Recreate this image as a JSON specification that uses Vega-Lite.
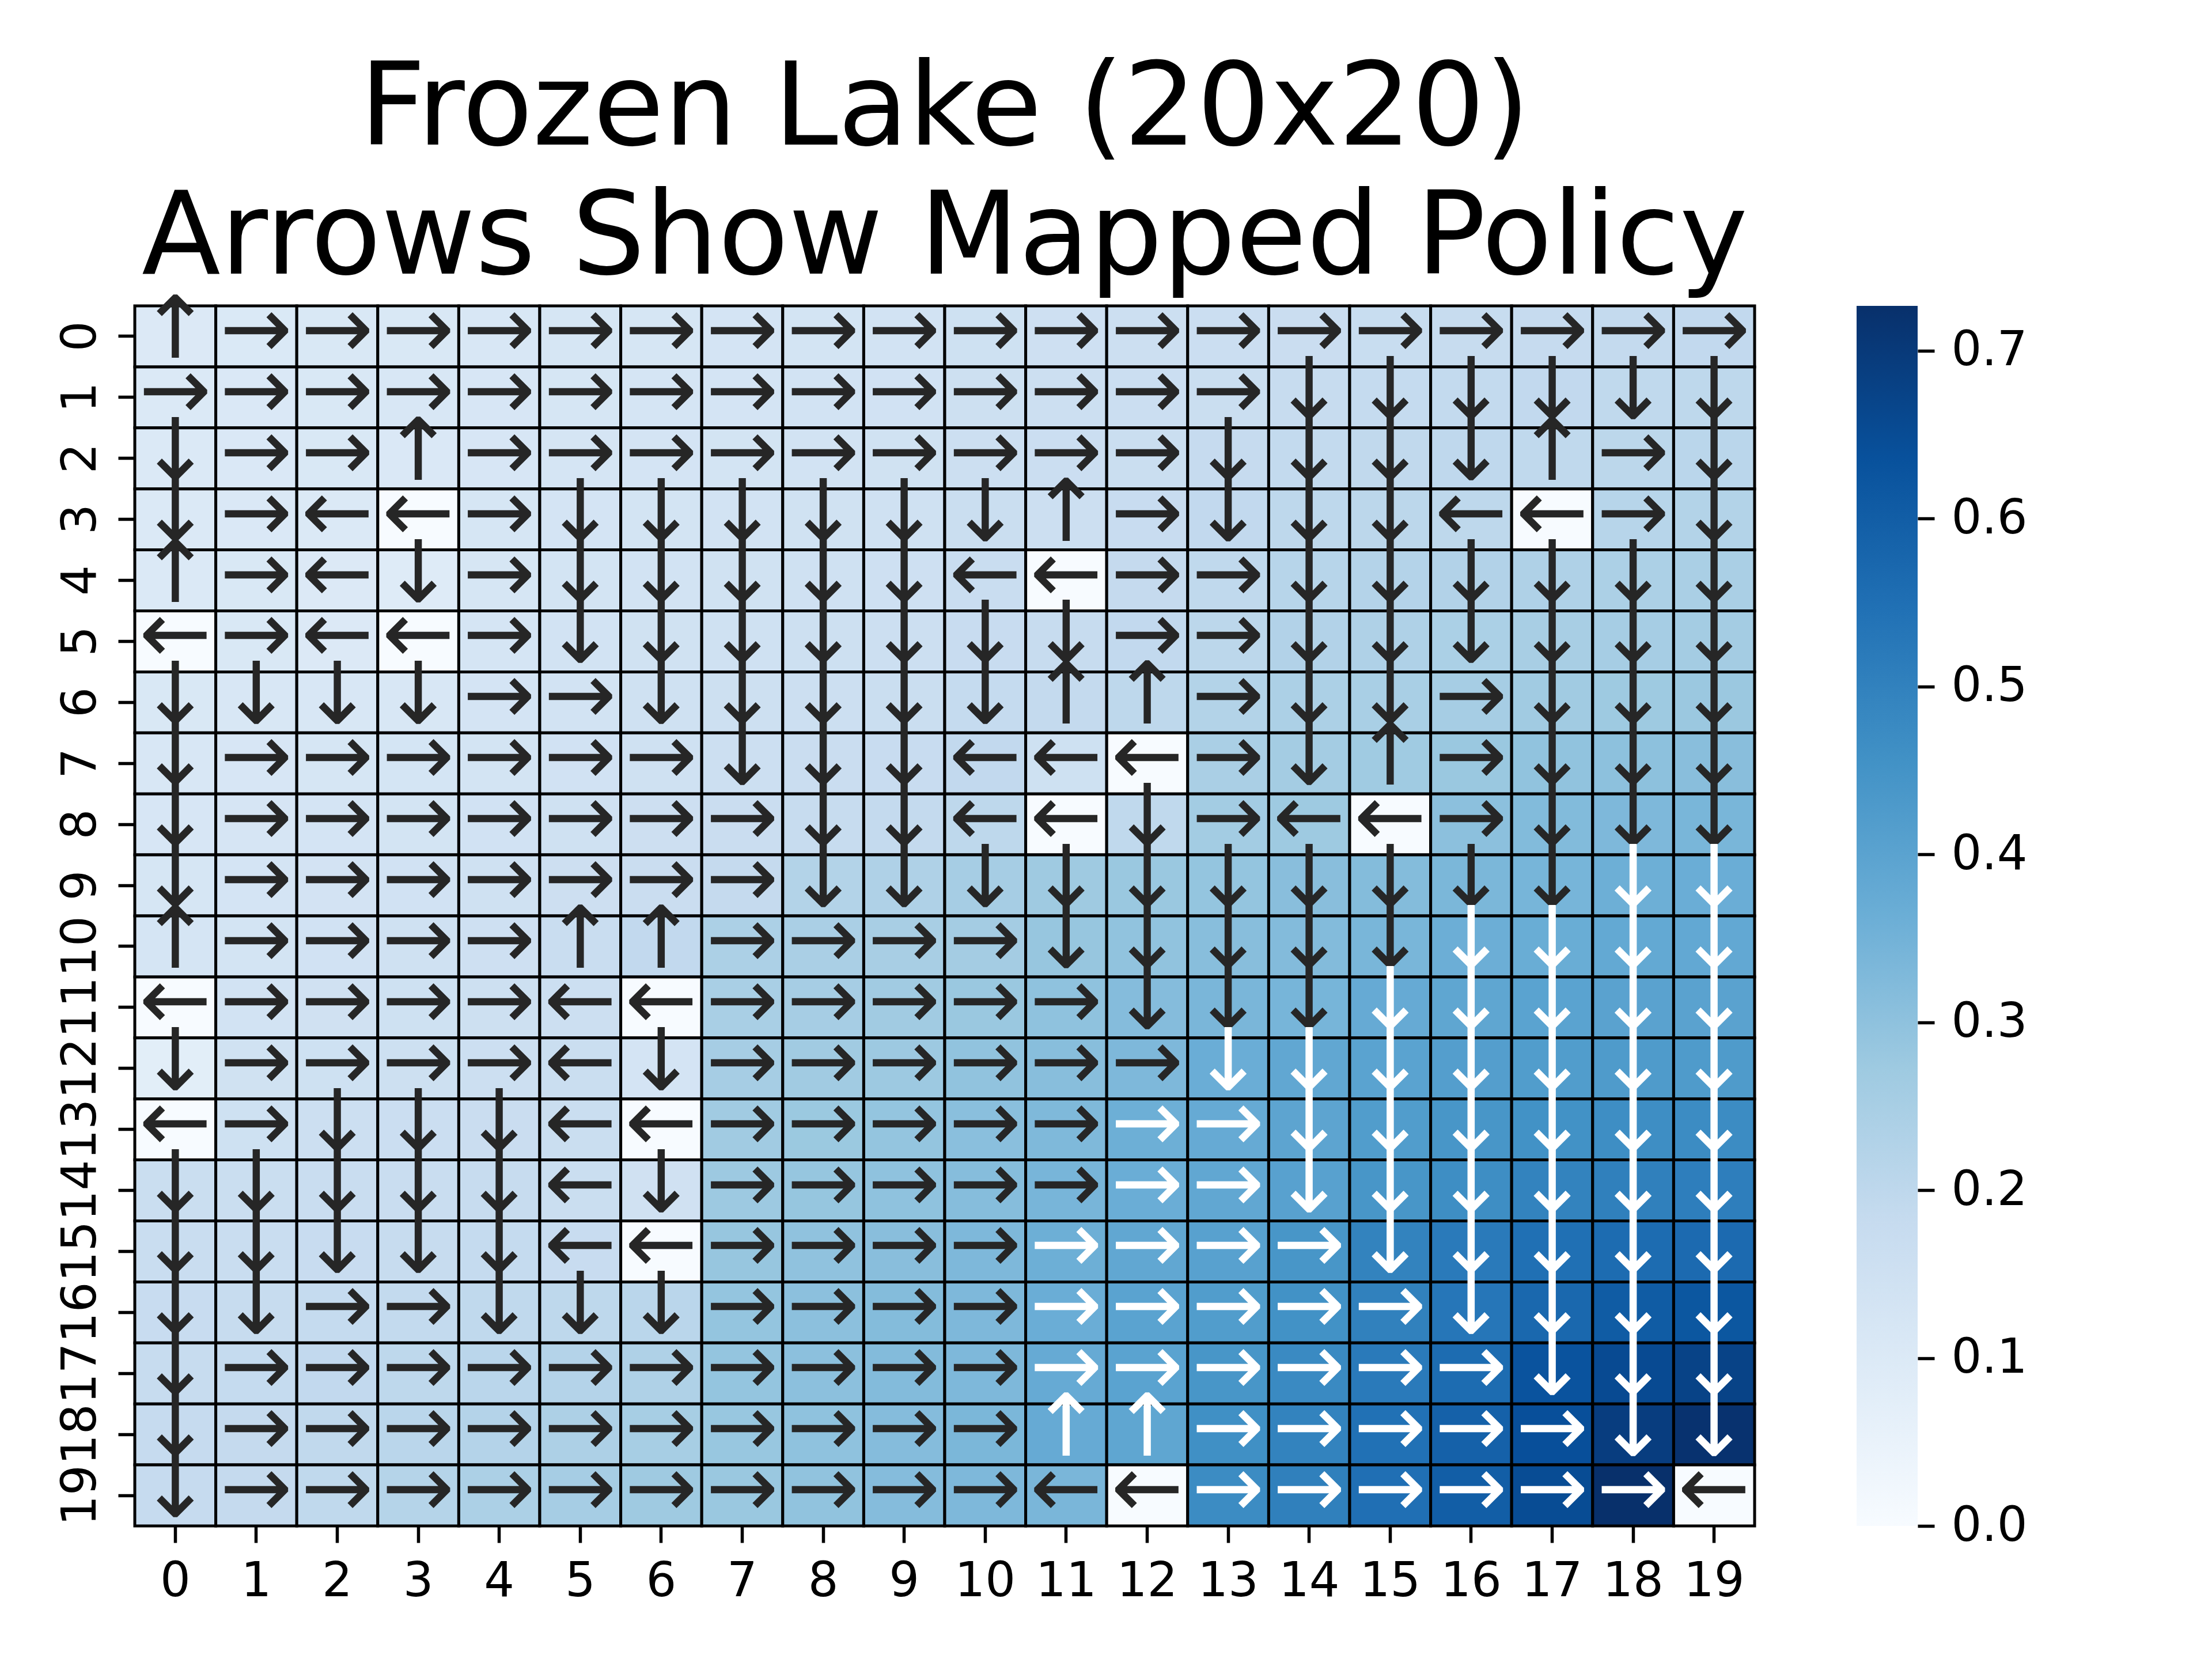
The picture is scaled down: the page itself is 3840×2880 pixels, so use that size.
{
  "$schema": "https://vega.github.io/schema/vega-lite/v6.json",
  "background": "white",
  "padding": {"left": 98, "top": 90, "right": 20, "bottom": 20},
  "config": {"view": {"stroke": null}, "font": "DejaVu Sans"},
  "spacing": 177,
  "bounds": "flush",
  "hconcat": [
    {
      "width": 2812,
      "height": 2118,
      "title": {"text": ["Frozen Lake (20x20)", "Arrows Show Mapped Policy"], "fontSize": 200, "font": "DejaVu Sans", "fontWeight": "normal", "color": "black", "lineHeight": 224, "anchor": "middle", "offset": -16},
      "data": {"values": [
{"r":0,"c":0,"v":0.1,"a":"↑"},{"r":0,"c":1,"v":0.105,"a":"→"},{"r":0,"c":2,"v":0.11,"a":"→"},{"r":0,"c":3,"v":0.11,"a":"→"},{"r":0,"c":4,"v":0.115,"a":"→"},{"r":0,"c":5,"v":0.12,"a":"→"},{"r":0,"c":6,"v":0.122,"a":"→"},{"r":0,"c":7,"v":0.128,"a":"→"},{"r":0,"c":8,"v":0.132,"a":"→"},{"r":0,"c":9,"v":0.136,"a":"→"},{"r":0,"c":10,"v":0.15,"a":"→"},{"r":0,"c":11,"v":0.153,"a":"→"},{"r":0,"c":12,"v":0.158,"a":"→"},{"r":0,"c":13,"v":0.163,"a":"→"},{"r":0,"c":14,"v":0.168,"a":"→"},{"r":0,"c":15,"v":0.173,"a":"→"},{"r":0,"c":16,"v":0.178,"a":"→"},{"r":0,"c":17,"v":0.182,"a":"→"},{"r":0,"c":18,"v":0.186,"a":"→"},{"r":0,"c":19,"v":0.19,"a":"→"},
{"r":1,"c":0,"v":0.102,"a":"→"},{"r":1,"c":1,"v":0.106,"a":"→"},{"r":1,"c":2,"v":0.11,"a":"→"},{"r":1,"c":3,"v":0.113,"a":"→"},{"r":1,"c":4,"v":0.117,"a":"→"},{"r":1,"c":5,"v":0.122,"a":"→"},{"r":1,"c":6,"v":0.126,"a":"→"},{"r":1,"c":7,"v":0.13,"a":"→"},{"r":1,"c":8,"v":0.135,"a":"→"},{"r":1,"c":9,"v":0.14,"a":"→"},{"r":1,"c":10,"v":0.155,"a":"→"},{"r":1,"c":11,"v":0.158,"a":"→"},{"r":1,"c":12,"v":0.162,"a":"→"},{"r":1,"c":13,"v":0.166,"a":"→"},{"r":1,"c":14,"v":0.178,"a":"↓"},{"r":1,"c":15,"v":0.183,"a":"↓"},{"r":1,"c":16,"v":0.188,"a":"↓"},{"r":1,"c":17,"v":0.19,"a":"↓"},{"r":1,"c":18,"v":0.195,"a":"↓"},{"r":1,"c":19,"v":0.2,"a":"↓"},
{"r":2,"c":0,"v":0.102,"a":"↓"},{"r":2,"c":1,"v":0.106,"a":"→"},{"r":2,"c":2,"v":0.108,"a":"→"},{"r":2,"c":3,"v":0.106,"a":"↑"},{"r":2,"c":4,"v":0.118,"a":"→"},{"r":2,"c":5,"v":0.124,"a":"→"},{"r":2,"c":6,"v":0.128,"a":"→"},{"r":2,"c":7,"v":0.133,"a":"→"},{"r":2,"c":8,"v":0.138,"a":"→"},{"r":2,"c":9,"v":0.143,"a":"→"},{"r":2,"c":10,"v":0.158,"a":"→"},{"r":2,"c":11,"v":0.162,"a":"→"},{"r":2,"c":12,"v":0.167,"a":"→"},{"r":2,"c":13,"v":0.18,"a":"↓"},{"r":2,"c":14,"v":0.188,"a":"↓"},{"r":2,"c":15,"v":0.193,"a":"↓"},{"r":2,"c":16,"v":0.197,"a":"↓"},{"r":2,"c":17,"v":0.195,"a":"↑"},{"r":2,"c":18,"v":0.205,"a":"→"},{"r":2,"c":19,"v":0.21,"a":"↓"},
{"r":3,"c":0,"v":0.103,"a":"↓"},{"r":3,"c":1,"v":0.107,"a":"→"},{"r":3,"c":2,"v":0.103,"a":"←"},{"r":3,"c":3,"v":0,"a":"←"},{"r":3,"c":4,"v":0.12,"a":"→"},{"r":3,"c":5,"v":0.128,"a":"↓"},{"r":3,"c":6,"v":0.132,"a":"↓"},{"r":3,"c":7,"v":0.138,"a":"↓"},{"r":3,"c":8,"v":0.143,"a":"↓"},{"r":3,"c":9,"v":0.148,"a":"↓"},{"r":3,"c":10,"v":0.165,"a":"↓"},{"r":3,"c":11,"v":0.16,"a":"↑"},{"r":3,"c":12,"v":0.175,"a":"→"},{"r":3,"c":13,"v":0.19,"a":"↓"},{"r":3,"c":14,"v":0.2,"a":"↓"},{"r":3,"c":15,"v":0.205,"a":"↓"},{"r":3,"c":16,"v":0.2,"a":"←"},{"r":3,"c":17,"v":0,"a":"←"},{"r":3,"c":18,"v":0.215,"a":"→"},{"r":3,"c":19,"v":0.225,"a":"↓"},
{"r":4,"c":0,"v":0.104,"a":"↑"},{"r":4,"c":1,"v":0.108,"a":"→"},{"r":4,"c":2,"v":0.1,"a":"←"},{"r":4,"c":3,"v":0.09,"a":"↓"},{"r":4,"c":4,"v":0.122,"a":"→"},{"r":4,"c":5,"v":0.132,"a":"↓"},{"r":4,"c":6,"v":0.137,"a":"↓"},{"r":4,"c":7,"v":0.143,"a":"↓"},{"r":4,"c":8,"v":0.148,"a":"↓"},{"r":4,"c":9,"v":0.153,"a":"↓"},{"r":4,"c":10,"v":0.17,"a":"←"},{"r":4,"c":11,"v":0,"a":"←"},{"r":4,"c":12,"v":0.185,"a":"→"},{"r":4,"c":13,"v":0.195,"a":"→"},{"r":4,"c":14,"v":0.215,"a":"↓"},{"r":4,"c":15,"v":0.222,"a":"↓"},{"r":4,"c":16,"v":0.228,"a":"↓"},{"r":4,"c":17,"v":0.235,"a":"↓"},{"r":4,"c":18,"v":0.24,"a":"↓"},{"r":4,"c":19,"v":0.245,"a":"↓"},
{"r":5,"c":0,"v":0,"a":"←"},{"r":5,"c":1,"v":0.11,"a":"→"},{"r":5,"c":2,"v":0.1,"a":"←"},{"r":5,"c":3,"v":0,"a":"←"},{"r":5,"c":4,"v":0.125,"a":"→"},{"r":5,"c":5,"v":0.136,"a":"↓"},{"r":5,"c":6,"v":0.142,"a":"↓"},{"r":5,"c":7,"v":0.148,"a":"↓"},{"r":5,"c":8,"v":0.154,"a":"↓"},{"r":5,"c":9,"v":0.16,"a":"↓"},{"r":5,"c":10,"v":0.175,"a":"↓"},{"r":5,"c":11,"v":0.178,"a":"↓"},{"r":5,"c":12,"v":0.19,"a":"→"},{"r":5,"c":13,"v":0.205,"a":"→"},{"r":5,"c":14,"v":0.228,"a":"↓"},{"r":5,"c":15,"v":0.235,"a":"↓"},{"r":5,"c":16,"v":0.242,"a":"↓"},{"r":5,"c":17,"v":0.25,"a":"↓"},{"r":5,"c":18,"v":0.255,"a":"↓"},{"r":5,"c":19,"v":0.26,"a":"↓"},
{"r":6,"c":0,"v":0.108,"a":"↓"},{"r":6,"c":1,"v":0.112,"a":"↓"},{"r":6,"c":2,"v":0.113,"a":"↓"},{"r":6,"c":3,"v":0.115,"a":"↓"},{"r":6,"c":4,"v":0.128,"a":"→"},{"r":6,"c":5,"v":0.135,"a":"→"},{"r":6,"c":6,"v":0.147,"a":"↓"},{"r":6,"c":7,"v":0.154,"a":"↓"},{"r":6,"c":8,"v":0.16,"a":"↓"},{"r":6,"c":9,"v":0.167,"a":"↓"},{"r":6,"c":10,"v":0.183,"a":"↓"},{"r":6,"c":11,"v":0.187,"a":"↑"},{"r":6,"c":12,"v":0.2,"a":"↑"},{"r":6,"c":13,"v":0.225,"a":"→"},{"r":6,"c":14,"v":0.24,"a":"↓"},{"r":6,"c":15,"v":0.248,"a":"↓"},{"r":6,"c":16,"v":0.255,"a":"→"},{"r":6,"c":17,"v":0.265,"a":"↓"},{"r":6,"c":18,"v":0.272,"a":"↓"},{"r":6,"c":19,"v":0.278,"a":"↓"},
{"r":7,"c":0,"v":0.112,"a":"↓"},{"r":7,"c":1,"v":0.118,"a":"→"},{"r":7,"c":2,"v":0.122,"a":"→"},{"r":7,"c":3,"v":0.127,"a":"→"},{"r":7,"c":4,"v":0.132,"a":"→"},{"r":7,"c":5,"v":0.14,"a":"→"},{"r":7,"c":6,"v":0.148,"a":"→"},{"r":7,"c":7,"v":0.16,"a":"↓"},{"r":7,"c":8,"v":0.168,"a":"↓"},{"r":7,"c":9,"v":0.175,"a":"↓"},{"r":7,"c":10,"v":0.19,"a":"←"},{"r":7,"c":11,"v":0.15,"a":"←"},{"r":7,"c":12,"v":0,"a":"←"},{"r":7,"c":13,"v":0.245,"a":"→"},{"r":7,"c":14,"v":0.26,"a":"↓"},{"r":7,"c":15,"v":0.268,"a":"↑"},{"r":7,"c":16,"v":0.28,"a":"→"},{"r":7,"c":17,"v":0.295,"a":"↓"},{"r":7,"c":18,"v":0.303,"a":"↓"},{"r":7,"c":19,"v":0.31,"a":"↓"},
{"r":8,"c":0,"v":0.117,"a":"↓"},{"r":8,"c":1,"v":0.123,"a":"→"},{"r":8,"c":2,"v":0.128,"a":"→"},{"r":8,"c":3,"v":0.133,"a":"→"},{"r":8,"c":4,"v":0.14,"a":"→"},{"r":8,"c":5,"v":0.148,"a":"→"},{"r":8,"c":6,"v":0.157,"a":"→"},{"r":8,"c":7,"v":0.168,"a":"→"},{"r":8,"c":8,"v":0.178,"a":"↓"},{"r":8,"c":9,"v":0.186,"a":"↓"},{"r":8,"c":10,"v":0.2,"a":"←"},{"r":8,"c":11,"v":0,"a":"←"},{"r":8,"c":12,"v":0.195,"a":"↓"},{"r":8,"c":13,"v":0.262,"a":"→"},{"r":8,"c":14,"v":0.272,"a":"←"},{"r":8,"c":15,"v":0,"a":"←"},{"r":8,"c":16,"v":0.305,"a":"→"},{"r":8,"c":17,"v":0.322,"a":"↓"},{"r":8,"c":18,"v":0.33,"a":"↓"},{"r":8,"c":19,"v":0.338,"a":"↓"},
{"r":9,"c":0,"v":0.122,"a":"↓"},{"r":9,"c":1,"v":0.128,"a":"→"},{"r":9,"c":2,"v":0.134,"a":"→"},{"r":9,"c":3,"v":0.14,"a":"→"},{"r":9,"c":4,"v":0.148,"a":"→"},{"r":9,"c":5,"v":0.157,"a":"→"},{"r":9,"c":6,"v":0.168,"a":"→"},{"r":9,"c":7,"v":0.185,"a":"→"},{"r":9,"c":8,"v":0.225,"a":"↓"},{"r":9,"c":9,"v":0.235,"a":"↓"},{"r":9,"c":10,"v":0.254,"a":"↓"},{"r":9,"c":11,"v":0.27,"a":"↓"},{"r":9,"c":12,"v":0.28,"a":"↓"},{"r":9,"c":13,"v":0.29,"a":"↓"},{"r":9,"c":14,"v":0.31,"a":"↓"},{"r":9,"c":15,"v":0.318,"a":"↓"},{"r":9,"c":16,"v":0.335,"a":"↓"},{"r":9,"c":17,"v":0.342,"a":"↓"},{"r":9,"c":18,"v":0.36,"a":"↓"},{"r":9,"c":19,"v":0.365,"a":"↓"},
{"r":10,"c":0,"v":0.126,"a":"↑"},{"r":10,"c":1,"v":0.133,"a":"→"},{"r":10,"c":2,"v":0.14,"a":"→"},{"r":10,"c":3,"v":0.146,"a":"→"},{"r":10,"c":4,"v":0.153,"a":"→"},{"r":10,"c":5,"v":0.17,"a":"↑"},{"r":10,"c":6,"v":0.19,"a":"↑"},{"r":10,"c":7,"v":0.24,"a":"→"},{"r":10,"c":8,"v":0.245,"a":"→"},{"r":10,"c":9,"v":0.25,"a":"→"},{"r":10,"c":10,"v":0.26,"a":"→"},{"r":10,"c":11,"v":0.285,"a":"↓"},{"r":10,"c":12,"v":0.295,"a":"↓"},{"r":10,"c":13,"v":0.312,"a":"↓"},{"r":10,"c":14,"v":0.32,"a":"↓"},{"r":10,"c":15,"v":0.338,"a":"↓"},{"r":10,"c":16,"v":0.362,"a":"↓"},{"r":10,"c":17,"v":0.368,"a":"↓"},{"r":10,"c":18,"v":0.38,"a":"↓"},{"r":10,"c":19,"v":0.383,"a":"↓"},
{"r":11,"c":0,"v":0,"a":"←"},{"r":11,"c":1,"v":0.138,"a":"→"},{"r":11,"c":2,"v":0.145,"a":"→"},{"r":11,"c":3,"v":0.15,"a":"→"},{"r":11,"c":4,"v":0.156,"a":"→"},{"r":11,"c":5,"v":0.16,"a":"←"},{"r":11,"c":6,"v":0,"a":"←"},{"r":11,"c":7,"v":0.248,"a":"→"},{"r":11,"c":8,"v":0.255,"a":"→"},{"r":11,"c":9,"v":0.265,"a":"→"},{"r":11,"c":10,"v":0.28,"a":"→"},{"r":11,"c":11,"v":0.3,"a":"→"},{"r":11,"c":12,"v":0.317,"a":"↓"},{"r":11,"c":13,"v":0.336,"a":"↓"},{"r":11,"c":14,"v":0.342,"a":"↓"},{"r":11,"c":15,"v":0.375,"a":"↓"},{"r":11,"c":16,"v":0.39,"a":"↓"},{"r":11,"c":17,"v":0.4,"a":"↓"},{"r":11,"c":18,"v":0.402,"a":"↓"},{"r":11,"c":19,"v":0.402,"a":"↓"},
{"r":12,"c":0,"v":0.075,"a":"↓"},{"r":12,"c":1,"v":0.143,"a":"→"},{"r":12,"c":2,"v":0.15,"a":"→"},{"r":12,"c":3,"v":0.155,"a":"→"},{"r":12,"c":4,"v":0.16,"a":"→"},{"r":12,"c":5,"v":0.165,"a":"←"},{"r":12,"c":6,"v":0.13,"a":"↓"},{"r":12,"c":7,"v":0.255,"a":"→"},{"r":12,"c":8,"v":0.265,"a":"→"},{"r":12,"c":9,"v":0.275,"a":"→"},{"r":12,"c":10,"v":0.295,"a":"→"},{"r":12,"c":11,"v":0.312,"a":"→"},{"r":12,"c":12,"v":0.33,"a":"→"},{"r":12,"c":13,"v":0.365,"a":"↓"},{"r":12,"c":14,"v":0.385,"a":"↓"},{"r":12,"c":15,"v":0.4,"a":"↓"},{"r":12,"c":16,"v":0.415,"a":"↓"},{"r":12,"c":17,"v":0.42,"a":"↓"},{"r":12,"c":18,"v":0.425,"a":"↓"},{"r":12,"c":19,"v":0.425,"a":"↓"},
{"r":13,"c":0,"v":0,"a":"←"},{"r":13,"c":1,"v":0.15,"a":"→"},{"r":13,"c":2,"v":0.158,"a":"↓"},{"r":13,"c":3,"v":0.163,"a":"↓"},{"r":13,"c":4,"v":0.168,"a":"↓"},{"r":13,"c":5,"v":0.165,"a":"←"},{"r":13,"c":6,"v":0,"a":"←"},{"r":13,"c":7,"v":0.265,"a":"→"},{"r":13,"c":8,"v":0.277,"a":"→"},{"r":13,"c":9,"v":0.29,"a":"→"},{"r":13,"c":10,"v":0.308,"a":"→"},{"r":13,"c":11,"v":0.328,"a":"→"},{"r":13,"c":12,"v":0.36,"a":"→"},{"r":13,"c":13,"v":0.375,"a":"→"},{"r":13,"c":14,"v":0.395,"a":"↓"},{"r":13,"c":15,"v":0.42,"a":"↓"},{"r":13,"c":16,"v":0.44,"a":"↓"},{"r":13,"c":17,"v":0.455,"a":"↓"},{"r":13,"c":18,"v":0.465,"a":"↓"},{"r":13,"c":19,"v":0.47,"a":"↓"},
{"r":14,"c":0,"v":0.165,"a":"↓"},{"r":14,"c":1,"v":0.167,"a":"↓"},{"r":14,"c":2,"v":0.17,"a":"↓"},{"r":14,"c":3,"v":0.172,"a":"↓"},{"r":14,"c":4,"v":0.176,"a":"↓"},{"r":14,"c":5,"v":0.165,"a":"←"},{"r":14,"c":6,"v":0.145,"a":"↓"},{"r":14,"c":7,"v":0.275,"a":"→"},{"r":14,"c":8,"v":0.287,"a":"→"},{"r":14,"c":9,"v":0.3,"a":"→"},{"r":14,"c":10,"v":0.315,"a":"→"},{"r":14,"c":11,"v":0.34,"a":"→"},{"r":14,"c":12,"v":0.365,"a":"→"},{"r":14,"c":13,"v":0.385,"a":"→"},{"r":14,"c":14,"v":0.405,"a":"↓"},{"r":14,"c":15,"v":0.44,"a":"↓"},{"r":14,"c":16,"v":0.465,"a":"↓"},{"r":14,"c":17,"v":0.495,"a":"↓"},{"r":14,"c":18,"v":0.505,"a":"↓"},{"r":14,"c":19,"v":0.51,"a":"↓"},
{"r":15,"c":0,"v":0.17,"a":"↓"},{"r":15,"c":1,"v":0.172,"a":"↓"},{"r":15,"c":2,"v":0.175,"a":"↓"},{"r":15,"c":3,"v":0.178,"a":"↓"},{"r":15,"c":4,"v":0.183,"a":"↓"},{"r":15,"c":5,"v":0.175,"a":"←"},{"r":15,"c":6,"v":0,"a":"←"},{"r":15,"c":7,"v":0.285,"a":"→"},{"r":15,"c":8,"v":0.297,"a":"→"},{"r":15,"c":9,"v":0.31,"a":"→"},{"r":15,"c":10,"v":0.33,"a":"→"},{"r":15,"c":11,"v":0.36,"a":"→"},{"r":15,"c":12,"v":0.385,"a":"→"},{"r":15,"c":13,"v":0.405,"a":"→"},{"r":15,"c":14,"v":0.44,"a":"→"},{"r":15,"c":15,"v":0.495,"a":"↓"},{"r":15,"c":16,"v":0.52,"a":"↓"},{"r":15,"c":17,"v":0.547,"a":"↓"},{"r":15,"c":18,"v":0.56,"a":"↓"},{"r":15,"c":19,"v":0.565,"a":"↓"},
{"r":16,"c":0,"v":0.175,"a":"↓"},{"r":16,"c":1,"v":0.178,"a":"↓"},{"r":16,"c":2,"v":0.183,"a":"→"},{"r":16,"c":3,"v":0.188,"a":"→"},{"r":16,"c":4,"v":0.195,"a":"↓"},{"r":16,"c":5,"v":0.2,"a":"↓"},{"r":16,"c":6,"v":0.21,"a":"↓"},{"r":16,"c":7,"v":0.29,"a":"→"},{"r":16,"c":8,"v":0.305,"a":"→"},{"r":16,"c":9,"v":0.318,"a":"→"},{"r":16,"c":10,"v":0.33,"a":"→"},{"r":16,"c":11,"v":0.365,"a":"→"},{"r":16,"c":12,"v":0.4,"a":"→"},{"r":16,"c":13,"v":0.42,"a":"→"},{"r":16,"c":14,"v":0.455,"a":"→"},{"r":16,"c":15,"v":0.5,"a":"→"},{"r":16,"c":16,"v":0.53,"a":"↓"},{"r":16,"c":17,"v":0.57,"a":"↓"},{"r":16,"c":18,"v":0.605,"a":"↓"},{"r":16,"c":19,"v":0.62,"a":"↓"},
{"r":17,"c":0,"v":0.178,"a":"↓"},{"r":17,"c":1,"v":0.183,"a":"→"},{"r":17,"c":2,"v":0.19,"a":"→"},{"r":17,"c":3,"v":0.2,"a":"→"},{"r":17,"c":4,"v":0.21,"a":"→"},{"r":17,"c":5,"v":0.222,"a":"→"},{"r":17,"c":6,"v":0.235,"a":"→"},{"r":17,"c":7,"v":0.29,"a":"→"},{"r":17,"c":8,"v":0.305,"a":"→"},{"r":17,"c":9,"v":0.32,"a":"→"},{"r":17,"c":10,"v":0.33,"a":"→"},{"r":17,"c":11,"v":0.375,"a":"→"},{"r":17,"c":12,"v":0.4,"a":"→"},{"r":17,"c":13,"v":0.44,"a":"→"},{"r":17,"c":14,"v":0.475,"a":"→"},{"r":17,"c":15,"v":0.52,"a":"→"},{"r":17,"c":16,"v":0.56,"a":"→"},{"r":17,"c":17,"v":0.63,"a":"↓"},{"r":17,"c":18,"v":0.655,"a":"↓"},{"r":17,"c":19,"v":0.675,"a":"↓"},
{"r":18,"c":0,"v":0.18,"a":"↓"},{"r":18,"c":1,"v":0.185,"a":"→"},{"r":18,"c":2,"v":0.193,"a":"→"},{"r":18,"c":3,"v":0.208,"a":"→"},{"r":18,"c":4,"v":0.222,"a":"→"},{"r":18,"c":5,"v":0.238,"a":"→"},{"r":18,"c":6,"v":0.252,"a":"→"},{"r":18,"c":7,"v":0.283,"a":"→"},{"r":18,"c":8,"v":0.3,"a":"→"},{"r":18,"c":9,"v":0.317,"a":"→"},{"r":18,"c":10,"v":0.335,"a":"→"},{"r":18,"c":11,"v":0.375,"a":"↑"},{"r":18,"c":12,"v":0.39,"a":"↑"},{"r":18,"c":13,"v":0.46,"a":"→"},{"r":18,"c":14,"v":0.495,"a":"→"},{"r":18,"c":15,"v":0.545,"a":"→"},{"r":18,"c":16,"v":0.59,"a":"→"},{"r":18,"c":17,"v":0.64,"a":"→"},{"r":18,"c":18,"v":0.69,"a":"↓"},{"r":18,"c":19,"v":0.72,"a":"↓"},
{"r":19,"c":0,"v":0.181,"a":"↓"},{"r":19,"c":1,"v":0.185,"a":"→"},{"r":19,"c":2,"v":0.195,"a":"→"},{"r":19,"c":3,"v":0.22,"a":"→"},{"r":19,"c":4,"v":0.24,"a":"→"},{"r":19,"c":5,"v":0.255,"a":"→"},{"r":19,"c":6,"v":0.27,"a":"→"},{"r":19,"c":7,"v":0.28,"a":"→"},{"r":19,"c":8,"v":0.295,"a":"→"},{"r":19,"c":9,"v":0.317,"a":"→"},{"r":19,"c":10,"v":0.33,"a":"→"},{"r":19,"c":11,"v":0.337,"a":"←"},{"r":19,"c":12,"v":0,"a":"←"},{"r":19,"c":13,"v":0.47,"a":"→"},{"r":19,"c":14,"v":0.505,"a":"→"},{"r":19,"c":15,"v":0.55,"a":"→"},{"r":19,"c":16,"v":0.6,"a":"→"},{"r":19,"c":17,"v":0.65,"a":"→"},{"r":19,"c":18,"v":0.7267,"a":"→"},{"r":19,"c":19,"v":0,"a":"←"}
      ]},
      "encoding": {
        "x": {"field": "c", "type": "ordinal", "scale": {"paddingInner": 0, "paddingOuter": 0},
              "axis": {"title": null, "labelAngle": 0, "labelFontSize": 83, "labelFont": "DejaVu Sans", "labelColor": "black", "tickSize": 29, "tickWidth": 5.5, "tickColor": "black", "domain": false, "labelPadding": 26, "labelOverlap": false}},
        "y": {"field": "r", "type": "ordinal", "scale": {"paddingInner": 0, "paddingOuter": 0},
              "axis": {"title": null, "labelAngle": -90, "labelAlign": "center", "labelBaseline": "alphabetic", "labelFontSize": 83, "labelFont": "DejaVu Sans", "labelColor": "black", "tickSize": 29, "tickWidth": 5.5, "tickColor": "black", "domain": false, "labelPadding": 40, "labelOverlap": false}}
      },
      "layer": [
        {
          "mark": {"type": "rect", "stroke": "black", "strokeWidth": 5},
          "encoding": {
            "fill": {"field": "v", "type": "quantitative", "legend": null,
                     "scale": {"domain": [0, 0.090838, 0.181675, 0.272513, 0.36335, 0.454188, 0.545025, 0.635863, 0.7267],
                               "range": ["#f7fbff", "#deebf7", "#c6dbef", "#9ecae1", "#6baed6", "#4292c6", "#2171b5", "#08519c", "#08306b"],
                               "interpolate": "rgb"}}
          }
        },
        {
          "mark": {"type": "text", "font": "DejaVu Sans", "fontSize": 150, "baseline": "middle", "align": "center", "dy": -8},
          "encoding": {
            "text": {"field": "a"},
            "color": {"condition": {"test": "datum.v > 0.35", "value": "white"}, "value": "#262626"}
          }
        }
      ]
    },
    {
      "width": 106,
      "height": 2118,
      "data": {"values": [{"lo": 0, "hi": 0.7267}]},
      "mark": {"type": "rect", "fill": {"gradient": "linear", "x1": 0, "y1": 1, "x2": 0, "y2": 0,
        "stops": [
          {"offset": 0, "color": "#f7fbff"}, {"offset": 0.125, "color": "#deebf7"}, {"offset": 0.25, "color": "#c6dbef"},
          {"offset": 0.375, "color": "#9ecae1"}, {"offset": 0.5, "color": "#6baed6"}, {"offset": 0.625, "color": "#4292c6"},
          {"offset": 0.75, "color": "#2171b5"}, {"offset": 0.875, "color": "#08519c"}, {"offset": 1, "color": "#08306b"}]}},
      "encoding": {
        "y": {"field": "lo", "type": "quantitative", "scale": {"domain": [0, 0.7267], "nice": false, "zero": false},
              "axis": {"orient": "right", "title": null, "values": [0, 0.1, 0.2, 0.3, 0.4, 0.5, 0.6, 0.7], "format": ".1f",
                       "labelFontSize": 83, "labelFont": "DejaVu Sans", "labelColor": "black", "tickSize": 29, "tickWidth": 5.5,
                       "tickColor": "black", "domain": false, "grid": false, "labelPadding": 29, "labelOverlap": false, "labelFlush": false}},
        "y2": {"field": "hi"}
      }
    }
  ]
}
